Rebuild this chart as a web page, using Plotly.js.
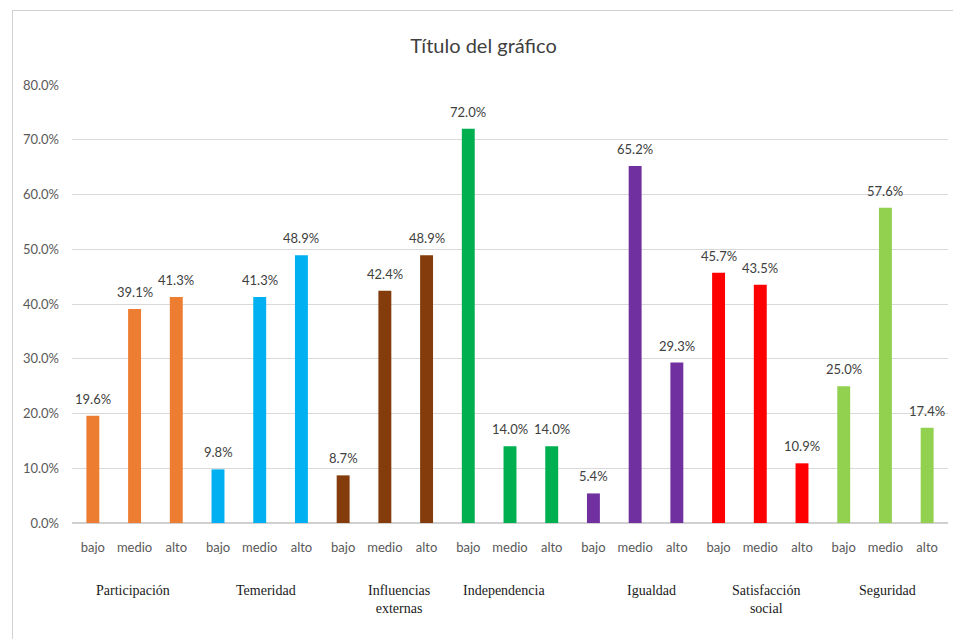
<!DOCTYPE html>
<html>
<head>
<meta charset="utf-8">
<script src="https://cdn.plot.ly/plotly-3.0.1.min.js"></script>
<style>
html,body{margin:0;padding:0;background:#fff;overflow:hidden;}
#frame{position:absolute;left:12px;top:10px;width:960px;height:640px;border-left:1px solid #d0d0d0;border-top:1px solid #d0d0d0;}
#chart{position:absolute;left:0;top:0;width:941px;height:629px;}
</style>
</head>
<body>
<div id="frame"><div id="chart"></div></div>
<script>
const groups = ["Participación","Temeridad","Influencias<br>externas","Independencia","Igualdad","Satisfacción<br>social","Seguridad"];
const levels = ["bajo","medio","alto"];
const participacion = [19.6, 39.1, 41.3];
const temeridad = [9.8, 41.3, 48.9];
const influencias = [8.7, 42.4, 48.9];
const independencia = [72.0, 14.0, 14.0];
const igualdad = [5.4, 65.2, 29.3];
const satisfaccion = [45.7, 43.5, 10.9];
const seguridad = [25.0, 57.6, 17.4];
const yTicks = [0,10,20,30,40,50,60,70,80];
const yTickText = ["0.0%","10.0%","20.0%","30.0%","40.0%","50.0%","60.0%","70.0%","80.0%"];

const series = [participacion, temeridad, influencias, independencia, igualdad, satisfaccion, seguridad];
const groupColors = ["#ED7D31","#00B0F0","#843C0C","#00B050","#7030A0","#FF0000","#92D050"];
const groupShift = [-2, 6, 14, -6, 16, 6, 2];

const x = [], y = [], colors = [], tickText = [];
series.forEach((vals, g) => {
  vals.forEach((v, i) => {
    x.push(g * 3 + i);
    y.push(v);
    colors.push(groupColors[g]);
    tickText.push(levels[i]);
  });
});

const trace = {
  type: 'bar', x: x, y: y,
  marker: {color: colors},
  hoverinfo: 'skip'
};

const labelFont = {family: 'Lato, "Open Sans", sans-serif', size: 13, color: '#404040'};
const annotations = x.map((xv, i) => ({
  xref: 'x', yref: 'y', x: xv, y: y[i], yshift: 7, yanchor: 'bottom',
  text: y[i].toFixed(1) + '%', showarrow: false, font: labelFont
})).concat(groups.map((g, i) => ({
  xref: 'x', yref: 'paper', x: i * 3 + 1, y: -0.132, xshift: groupShift[i],
  yanchor: 'top', text: g, showarrow: false,
  font: {family: '"Liberation Serif", "DejaVu Serif", serif', size: 14, color: '#1a1a1a'}
})));

const layout = {
  width: 941, height: 629,
  margin: {l: 59, r: 6, t: 74, b: 117},
  paper_bgcolor: '#fff', plot_bgcolor: '#fff',
  title: {text: 'Título del gráfico', x: 0.5, xanchor: 'center', y: 0.945, yanchor: 'middle',
          font: {family: 'Lato, "Open Sans", sans-serif', size: 20, color: '#404040'}},
  bargap: 0.69,
  showlegend: false,
  xaxis: {range: [-0.5, 20.5], tickvals: x, ticktext: tickText, ticks: '', showgrid: false,
          zeroline: false, showline: false, ticklabelstandoff: 15,
          tickfont: {family: 'Lato, "Open Sans", sans-serif', size: 13, color: '#595959'}},
  yaxis: {range: [0, 80], tickvals: yTicks, ticktext: yTickText, showgrid: true, gridcolor: '#D9D9D9',
          gridwidth: 1, zeroline: true, zerolinecolor: '#D0D0D0', zerolinewidth: 1.5, ticks: '',
          ticklabelstandoff: 12,
          tickfont: {family: 'Lato, "Open Sans", sans-serif', size: 13, color: '#595959'}},
  annotations: annotations
};

Plotly.newPlot('chart', [trace], layout, {displayModeBar: false, staticPlot: true});
</script>
</body>
</html>
